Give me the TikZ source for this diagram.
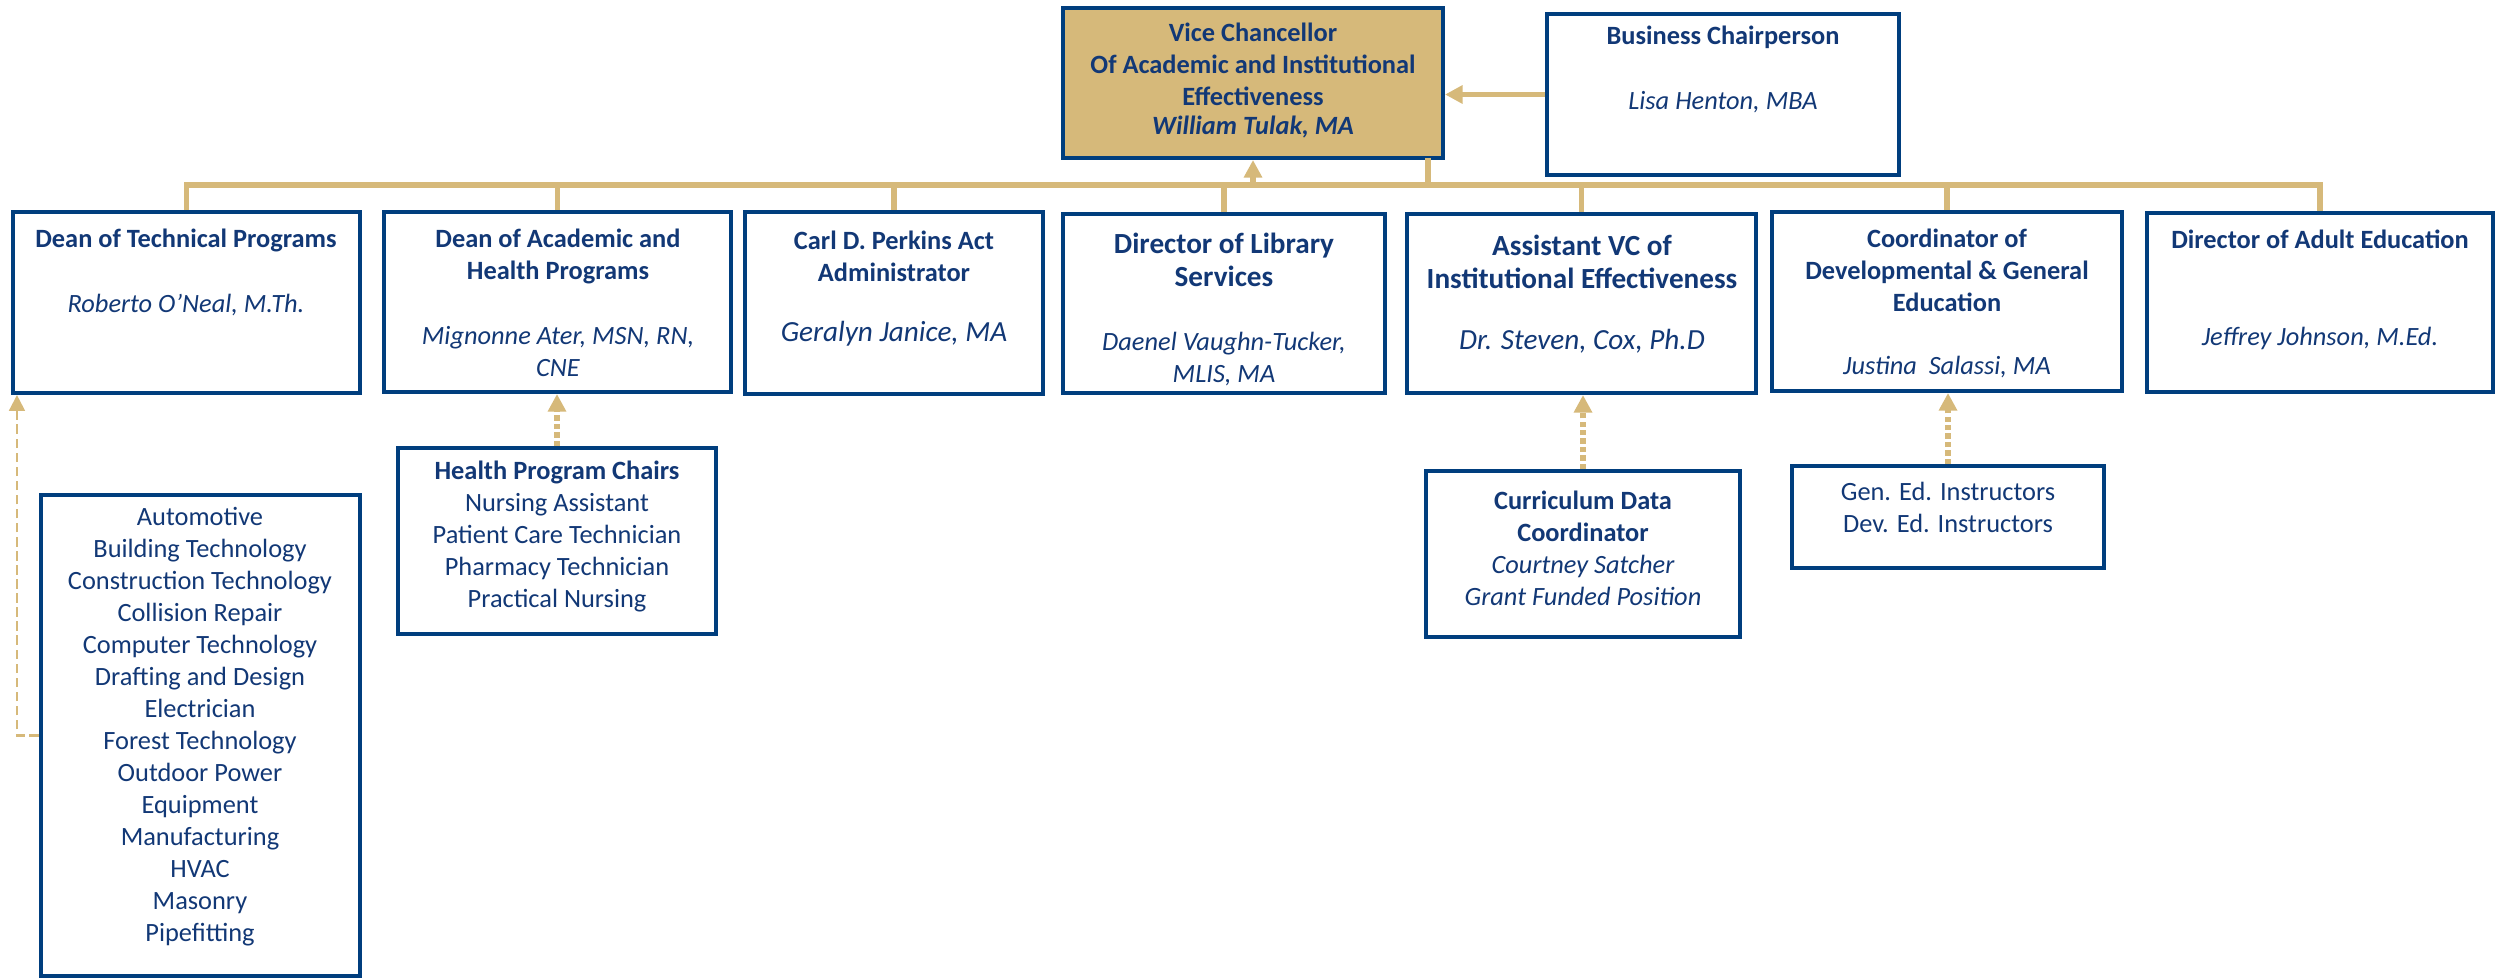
\documentclass[tikz,border=0pt]{standalone}
\usepackage{fontspec}
\setmainfont{Carlito}
\usetikzlibrary{arrows.meta,fit,calc}
\definecolor{gold}{RGB}{214,185,122}
\definecolor{navy}{RGB}{0,62,126}
\definecolor{ink}{RGB}{18,56,118}
\tikzset{
 box/.style={draw=navy, line width=1.15pt, inner sep=0pt, fill=white},
 vcbox/.style={box, fill=gold},
 txtbase/.style={text=ink, align=center, inner sep=0pt},
 rgn/.style={txtbase, font=\fontsize{7.5}{9.1}\selectfont},
 bfh/.style={txtbase, font=\fontsize{7.5}{9.1}\selectfont\bfseries},
 bfl/.style={txtbase, font=\fontsize{8.3}{9.5}\selectfont\bfseries},
 itn/.style={txtbase, font=\fontsize{7.5}{9.1}\selectfont\itshape},
 itl/.style={txtbase, font=\fontsize{8.3}{9.5}\selectfont\itshape},
 bin/.style={txtbase, font=\fontsize{7.5}{9.1}\selectfont\bfseries\itshape},
 gl/.style={draw=gold, line width=1.45pt, line join=miter},
 gla/.style={gl, -{Triangle[length=5pt,width=5pt]}},
 gda/.style={gla, dash pattern=on 1.5pt off 0.9pt},
 tda/.style={draw=gold, line width=0.6pt, dash pattern=on 2.7pt off 1.3pt, -{Triangle[length=4.5pt,width=4.5pt]}},
}
\begin{document}
\begin{tikzpicture}[x=0.01cm, y=-0.01cm]
\useasboundingbox (0,0) rectangle (2496,979);
% boxes
\node[vcbox, fit={(1063,8) (1443,158)}] (vc) {};
\node[box, fit={(1547,14) (1899,175)}] (bc) {};
\node[box, fit={(13,212) (360,393)}] (dt) {};
\node[box, fit={(384,212) (731,392)}] (da) {};
\node[box, fit={(745,212) (1043,394)}] (pk) {};
\node[box, fit={(1063,214) (1385,393)}] (lib) {};
\node[box, fit={(1407,214) (1756,393)}] (avc) {};
\node[box, fit={(1772,212) (2122,391)}] (cdg) {};
\node[box, fit={(2147,213) (2493,392)}] (ae) {};
\node[box, fit={(41,495) (360,976)}] (tl) {};
\node[box, fit={(398,448) (716,634)}] (hp) {};
\node[box, fit={(1426,471) (1740,637)}] (cd) {};
\node[box, fit={(1792,466) (2104,568)}] (gi) {};
% texts
\node[bfh] (vcH) at (1253,64) {Vice Chancellor\\Of Academic and Institutional\\Effectiveness};
\node[bin] (vcN) at (1253,127) {William Tulak, MA};
\node[bfh] (bcH) at (1723,37) {Business Chairperson};
\node[itn] (bcN) at (1723,102) {Lisa Henton, MBA};
\node[bfh] (dtH) at (186,240) {Dean of Technical Programs};
\node[itn] (dtN) at (186,305) {Roberto O’Neal, M.Th.};
\node[bfh] (daH) at (558,256) {Dean of Academic and\\Health Programs};
\node[itn] (daN) at (558,352) {Mignonne Ater, MSN, RN,\\CNE};
\node[bfh] (pkH) at (894,256) {Carl D. Perkins Act\\Administrator};
\node[itl] (pkN) at (894,334) {Geralyn Janice, MA};
\node[bfl] (libH) at (1224,260) {Director of Library\\Services};
\node[itn] (libN) at (1224,359) {Daenel Vaughn-Tucker,\\MLIS, MA};
\node[bfl] (avcH) at (1582,262) {Assistant VC of\\Institutional Effectiveness};
\node[itl] (avcN) at (1582,341) {Dr. Steven, Cox, Ph.D};
\node[bfh] (cdgH) at (1947,270) {Coordinator of\\Developmental \& General\\Education};
\node[itn] (cdgN) at (1947,367) {Justina~ Salassi, MA};
\node[bfh] (aeH) at (2320,239) {Director of Adult Education};
\node[itn] (aeN) at (2320,338) {Jeffrey Johnson, M.Ed.};
\node[rgn] (tlT) at (200,727) {Automotive\\Building Technology\\Construction Technology\\Collision Repair\\Computer Technology\\Drafting and Design\\Electrician\\Forest Technology\\Outdoor Power\\Equipment\\Manufacturing\\HVAC\\Masonry\\Pipefitting};
\node[rgn] (hpT) at (557,537) {\textbf{Health Program Chairs}\\Nursing Assistant\\Patient Care Technician\\Pharmacy Technician\\Practical Nursing};
\node[bfh] (cdH) at (1583,516) {Curriculum Data\\Coordinator};
\node[itn] (cdN) at (1583,580) {Courtney Satcher\\Grant Funded Position};
\node[rgn] (giT) at (1948,507) {Gen. Ed. Instructors\\Dev. Ed. Instructors};
% connectors
\coordinate (bus) at (1253,185);
\coordinate (vcr) at (1428,158);
\draw[gl] (dt.north) -- (dt.north |- bus) -- (ae.north |- bus) -- (ae.north);
\draw[gl] (da.north) -- (da.north |- bus);
\draw[gl] (pk.north) -- (pk.north |- bus);
\draw[gl] (lib.north) -- (lib.north |- bus);
\draw[gl] (avc.north) -- (avc.north |- bus);
\draw[gl] (cdg.north) -- (cdg.north |- bus);
\draw[gl] (vcr) -- (vcr |- bus);
\draw[gla] (bus) -- (vc.south);
\draw[gla] (bc.west) -- (bc.west -| vc.east);
\draw[gda] (hp.north) -- (hp.north |- da.south);
\draw[gda] (cd.north) -- (cd.north |- avc.south);
\draw[gda] (gi.north) -- (gi.north |- cdg.south);
\draw[tda] (tl.west) -| ($(dt.south west)+(6,0)$);
\end{tikzpicture}
\end{document}
